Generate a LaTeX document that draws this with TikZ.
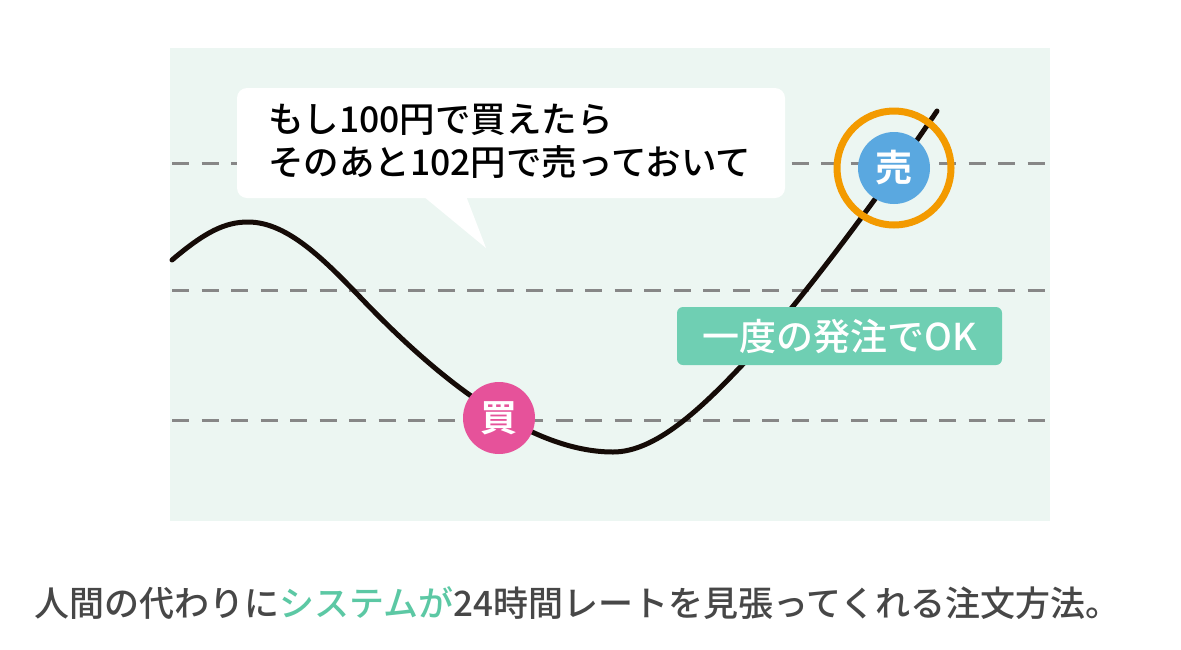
\documentclass[tikz,border=0pt]{standalone}
\usepackage{fontspec}
\newfontfamily\jp[BoldFont={Noto Sans CJK JP Bold}]{Noto Sans CJK JP Medium}
\definecolor{panel}{HTML}{ECF6F2}
\definecolor{gridgray}{HTML}{878787}
\definecolor{curvecol}{HTML}{150B07}
\definecolor{buypink}{HTML}{E6529A}
\definecolor{sellblue}{HTML}{5AA8E0}
\definecolor{ringorange}{HTML}{F39A00}
\definecolor{labelgreen}{HTML}{6FCFB3}
\definecolor{captgray}{HTML}{474747}
\definecolor{captgreen}{HTML}{5CC8A4}
\tikzset{
  gridline/.style={draw=gridgray, line width=3, dash pattern=on 17 off 12.5},
  pricecurve/.style={draw=curvecol, line width=5, line cap=round},
  markdot/.style={circle, minimum size=72, inner sep=0, text=white, font=\jp\bfseries\fontsize{37}{37}\selectfont},
  okbox/.style={rectangle, rounded corners=6, fill=labelgreen, minimum width=325, minimum height=58, inner sep=0, text=white, font=\jp\fontsize{37}{37}\selectfont},
  bubbletext/.style={align=left, inner sep=0, text=black, font=\jp\fontsize{35.5}{43}\selectfont},
}
\begin{document}
\begin{tikzpicture}[x=1pt, y=-1pt]
\useasboundingbox (0,0) rectangle (1181,649);
\fill[white] (0,0) rectangle (1181,649);
\fill[panel] (170,48) rectangle (1050,521);
% dashed levels
\draw[gridline] (172,163) -- (1046,163);
\draw[gridline] (172,290) -- (1046,290);
\draw[gridline] (172,420) -- (1046,420);
% speech bubble
\fill[white, rounded corners=10] (237,88) rectangle (785,198);
\fill[white] (423,196) -- (486,248) -- (466,196) -- cycle;
\node[bubbletext, anchor=west] (msg) at (268,141) {もし100円で買えたら\\そのあと102円で売っておいて};
% price curve
\draw[pricecurve] (172,260) .. controls (205,232) and (225,222) .. (248,222)
  .. controls (285,222) and (320,255) .. (360,297)
  .. controls (420,360) and (520,452) .. (613,452)
  .. controls (655,452) and (700,410) .. (745,362)
  .. controls (800,303) and (880,195) .. (937,111);
% markers
\node[markdot, fill=buypink] (buy) at (499,418) {買};
\node[markdot, fill=sellblue] (sell) at (894,168) {売};
\draw[ringorange, line width=7] (sell.center) circle (57);
% label
\node[okbox] (ok) at (839.5,336) {一度の発注でOK};
% caption
\node[anchor=west, inner sep=0, text=captgray, font=\jp\fontsize{35}{35}\selectfont] (caption) at (34,603) {人間の代わりに\textcolor{captgreen}{システムが}24時間レートを見張ってくれる注文方法。};
\end{tikzpicture}
\end{document}
